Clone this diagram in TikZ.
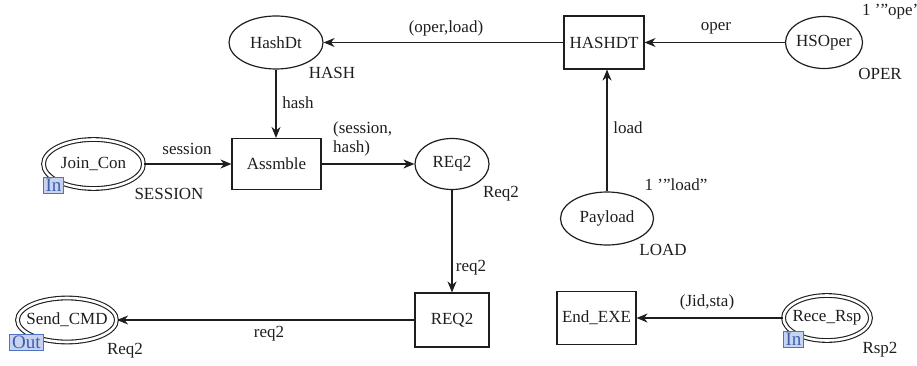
\documentclass[tikz,border=0pt]{standalone}
\usepackage{fontspec}
\setmainfont{Liberation Serif}
\usetikzlibrary{shapes.geometric,arrows.meta}

\definecolor{ink}{HTML}{1E1E1E}
\definecolor{tagfill}{HTML}{C8D3F0}
\definecolor{tagline}{HTML}{4F72C4}
\definecolor{tagtext}{HTML}{3D5EAE}

\tikzset{
  txt/.style={font=\fontsize{17}{19}\selectfont, text=ink},
  place/.style={ellipse, draw=ink, line width=1.2pt, inner sep=0pt},
  portplace/.style={ellipse, draw=ink, line width=1.1pt, double=white,
    double distance=2.6pt, inner sep=0pt},
  trans/.style={rectangle, draw=ink, line width=1.1pt, inner sep=0pt, txt},
  arc/.style={draw=ink, line width=1.2pt,
    -{Stealth[length=11pt, width=9pt, inset=3.5pt]}},
  lbl/.style={txt, inner sep=0pt},
  tag/.style={rectangle, draw=tagline, fill=tagfill, line width=0.9pt,
    text=tagtext, font=\fontsize{19}{19}\selectfont, inner xsep=2.5pt,
    inner ysep=0pt, minimum height=16.5pt, text height=12.5pt, text depth=0pt}
}

\begin{document}
\begin{tikzpicture}[x=1pt, y=-1pt]
\useasboundingbox (0,0) rectangle (917,366);

% places
\node[place, minimum width=94pt, minimum height=53pt,
      label={[txt]center:HashDt}] (pHash) at (276,42.5) {};
\node[place, minimum width=77pt, minimum height=52pt,
      label={[txt]center:HSOper}] (pOper) at (824,42.5) {};
\node[place, minimum width=93pt, minimum height=53pt,
      label={[txt]center:Payload}] (pLoad) at (607,218.5) {};
\node[place, minimum width=74pt, minimum height=51pt,
      label={[txt]center:REq2}] (pReq) at (452,164) {};

% port places
\node[portplace, minimum width=100pt, minimum height=49pt,
      label={[txt]center:Join\_Con}] (pJoin) at (93.5,164) {};
\node[portplace, minimum width=99pt, minimum height=44pt,
      label={[txt]center:Send\_CMD}] (pSend) at (67,320) {};
\node[portplace, minimum width=87pt, minimum height=45pt,
      label={[txt]center:Rece\_Rsp}] (pRece) at (827,318) {};

% transitions
\node[trans, minimum width=80pt, minimum height=53pt] (tHash) at (604,42.5) {HASHDT};
\node[trans, minimum width=89pt, minimum height=51pt] (tAsm) at (276.5,164) {Assmble};
\node[trans, minimum width=74pt, minimum height=54pt] (tReq) at (452,320) {REQ2};
\node[trans, minimum width=79pt, minimum height=53pt] (tEnd) at (596.5,318) {End\_EXE};

% port tags
\node[tag] (gJoin) at (53.5,185.5) {In};
\node[tag] (gSend) at (26.5,342.5) {Out};
\node[tag] (gRece) at (793.5,339.5) {In};

% arcs
\draw[arc] (pOper) -- (tHash);
\draw[arc] (tHash) -- (pHash);
\draw[arc] (pLoad.north) -- (pLoad.north |- tHash.south);
\draw[arc] (pHash.south) -- (pHash.south |- tAsm.north);
\draw[arc] (pJoin) -- (tAsm);
\draw[arc] (tAsm) -- (pReq);
\draw[arc] (pReq) -- (tReq);
\draw[arc] (tReq) -- (pSend);
\draw[arc] (pRece) -- (tEnd);

% arc inscriptions
\node[lbl] (iOperLoad) at (446,28) {(oper,load)};
\node[lbl] (iOper) at (716,28) {oper};
\node[lbl] (iLoad) at (628,128) {load};
\node[lbl] (iHash) at (298,103) {hash};
\node[lbl] (iSession) at (187,149) {session};
\node[lbl, align=left, anchor=west] (iPair) at (333,139) {(session,\\hash)};
\node[lbl] (iReqA) at (471,268) {req2};
\node[lbl] (iReqB) at (269,334) {req2};
\node[lbl] (iJid) at (707,302) {(Jid,sta)};

% colour sets and initial markings
\node[lbl] (cHash) at (332,73) {HASH};
\node[lbl] (cOper) at (880,74) {OPER};
\node[lbl, anchor=west] (mOper) at (862,12) {1 ’”ope’};
\node[lbl] (mLoad) at (676,185) {1 ’”load”};
\node[lbl] (cLoad) at (663,250) {LOAD};
\node[lbl] (cSession) at (169,194) {SESSION};
\node[lbl] (cReq) at (501,194) {Req2};
\node[lbl] (cSend) at (125,351) {Req2};
\node[lbl] (cRece) at (880,350) {Rsp2};
\end{tikzpicture}
\end{document}
